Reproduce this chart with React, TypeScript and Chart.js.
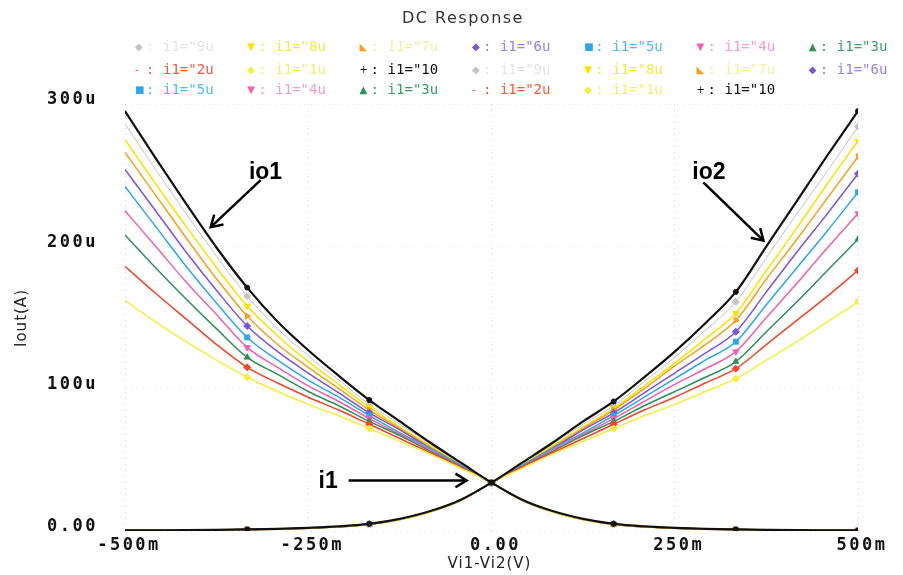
import React, { useEffect, useRef } from "react";
import { Chart, registerables } from "chart.js";
Chart.register(...registerables);

// Vi1-Vi2 sweep, in mV
const vDiff = [-500, -458.3, -416.7, -375, -333.3, -291.7, -250, -208.3, -166.7, -125, -83.3, -41.7, 0, 41.7, 83.3, 125, 166.7, 208.3, 250, 291.7, 333.3, 375, 416.7, 458.3, 500];

// legend / series order
const seriesLabels = ['i1="9u', 'i1="8u', 'i1="7u', 'i1="6u', 'i1="5u', 'i1="4u', 'i1="3u', 'i1="2u', 'i1="1u', 'i1="10'];

// io1 currents (uA)
const io1_9u = [286, 254, 223, 193, 165, 142, 123, 106, 89, 75, 61, 47, 34, 22, 14, 8.4, 5, 3.2, 2.2, 1.5, 1.1, 0.8, 0.6, 0.5, 0.4];
const io1_8u = [275, 244, 214, 185, 158, 137, 119, 103, 87, 73, 60, 47, 34, 22, 13.8, 8.3, 4.9, 3.1, 2.1, 1.5, 1.1, 0.8, 0.6, 0.5, 0.4];
const io1_7u = [266, 236, 206, 177, 151, 131, 115, 100, 85, 72, 59, 46, 34, 22, 13.8, 8.3, 4.9, 3.1, 2.1, 1.4, 1, 0.8, 0.6, 0.5, 0.4];
const io1_6u = [254, 225, 196, 169, 144, 126, 111, 97, 83, 71, 58, 46, 34, 21.8, 13.7, 8.2, 4.8, 3, 2.1, 1.4, 1, 0.8, 0.6, 0.5, 0.4];
const io1_5u = [242, 214, 186, 160, 136, 120, 106, 94, 81, 69, 58, 46, 34, 21.8, 13.7, 8.2, 4.8, 3, 2, 1.4, 1, 0.7, 0.6, 0.5, 0.4];
const io1_4u = [225, 200, 175, 152, 129, 115, 102, 91, 79, 68, 57, 45, 34, 21.7, 13.6, 8.1, 4.7, 3, 2, 1.4, 1, 0.7, 0.6, 0.5, 0.4];
const io1_3u = [208, 185, 163, 142, 122, 110, 98, 88, 77, 67, 56, 45, 34, 21.7, 13.6, 8.1, 4.7, 2.9, 2, 1.4, 1, 0.7, 0.5, 0.4, 0.3];
const io1_2u = [186, 167, 149, 131, 115, 104, 94, 85, 75, 65, 55, 45, 34, 21.6, 13.5, 8, 4.6, 2.9, 1.9, 1.3, 1, 0.7, 0.5, 0.4, 0.3];
const io1_1u = [162, 147, 133, 120, 108, 98, 89, 81, 72, 63, 54, 44, 34, 21.5, 13.4, 7.9, 4.6, 2.8, 1.9, 1.3, 0.9, 0.7, 0.5, 0.4, 0.3];
const io1_10u = [295, 262, 230, 199, 171, 147, 127, 109, 92, 77, 62, 48, 34, 22, 14, 8.5, 5, 3.2, 2.2, 1.5, 1.1, 0.8, 0.6, 0.5, 0.4];

// io2 currents (uA)
const io2_9u = [0.4, 0.5, 0.6, 0.8, 1.1, 1.5, 2.2, 3.2, 5, 8.4, 14, 22, 34, 47, 61, 75, 88, 105, 122, 141, 161, 192, 223, 253, 284];
const io2_8u = [0.4, 0.5, 0.6, 0.8, 1.1, 1.5, 2.1, 3.1, 4.9, 8.3, 13.8, 22, 34, 47, 60, 73, 86, 102, 118, 135, 153, 183, 213, 244, 274];
const io2_7u = [0.4, 0.5, 0.6, 0.8, 1, 1.4, 2.1, 3.1, 4.9, 8.3, 13.8, 22, 34, 46, 59, 72, 85, 100, 116, 131, 148, 177, 205, 234, 263];
const io2_6u = [0.4, 0.5, 0.6, 0.8, 1, 1.4, 2.1, 3, 4.8, 8.2, 13.7, 21.8, 34, 46, 58, 71, 83, 97, 111, 125, 140, 168, 196, 223, 251];
const io2_5u = [0.4, 0.5, 0.6, 0.7, 1, 1.4, 2, 3, 4.8, 8.2, 13.7, 21.8, 34, 46, 58, 69, 81, 94, 107, 120, 133, 159, 185, 211, 238];
const io2_4u = [0.4, 0.5, 0.6, 0.7, 1, 1.4, 2, 3, 4.7, 8.1, 13.6, 21.7, 34, 45, 57, 68, 79, 91, 103, 114, 126, 150, 174, 199, 223];
const io2_3u = [0.3, 0.4, 0.5, 0.7, 1, 1.4, 2, 2.9, 4.7, 8.1, 13.6, 21.7, 34, 45, 56, 67, 77, 88, 98, 108, 119, 140, 161, 183, 205];
const io2_2u = [0.3, 0.4, 0.5, 0.7, 1, 1.3, 1.9, 2.9, 4.6, 8, 13.5, 21.6, 34, 45, 55, 65, 75, 85, 94, 104, 114, 131, 148, 165, 183];
const io2_1u = [0.3, 0.4, 0.5, 0.7, 0.9, 1.3, 1.9, 2.8, 4.6, 7.9, 13.4, 21.5, 34, 44, 54, 63, 72, 81, 89, 98, 107, 120, 133, 147, 161];
const io2_10u = [0.4, 0.5, 0.6, 0.8, 1.1, 1.5, 2.2, 3.2, 5, 8.5, 14, 22, 34, 48, 62, 77, 91, 108, 126, 146, 168, 200, 232, 264, 295];

const io1Series = [io1_9u, io1_8u, io1_7u, io1_6u, io1_5u, io1_4u, io1_3u, io1_2u, io1_1u, io1_10u];
const io2Series = [io2_9u, io2_8u, io2_7u, io2_6u, io2_5u, io2_4u, io2_3u, io2_2u, io2_1u, io2_10u];

const lineColors = ["#c4c4c4", "#ffe000", "#f5a020", "#7a55d8", "#2ea6ea", "#f35fae", "#2f8f5a", "#f0452b", "#f5ee40", "#111111"];
const legendTextColors = ["#e4e4e4", "#f6e650", "#f6eca8", "#9a80e0", "#55b8f0", "#f59bcf", "#3c9e6a", "#f05a3a", "#f3ec78", "#111111"];
const pointStyles = ["rectRot", "triangle", "triangle", "rectRot", "rect", "triangle", "triangle", "rectRot", "rectRot", "circle"];
const pointRotations = [0, 180, 90, 0, 0, 180, 0, 0, 0, 0];
const legendSymbols = ["◆", "▼", "◣", "◆", "■", "▼", "▲", "-", "◆", "+"];

const markerIndices = [4, 8, 12, 16, 20, 24];

const xTickValues = [-500, -250, 0, 250, 500];
const xTickLabels = ["-500m", "-250m", "0.00", "250m", "500m"];
const yTickValues = [0, 100, 200, 300];
const yTickLabels = ["0.00", "100u", "200u", "300u"];

const chartTitle = "DC Response";
const xTitle = "Vi1-Vi2(V)";
const yTitle = "Iout(A)";

// annotations in data units (mV, uA)
const notes = [
  { text: "io1", x: -331, y: 252, fx: -315, fy: 246.5, tx: -383, ty: 213.5 },
  { text: "io2", x: 274, y: 252, fx: 289, fy: 245, tx: 371, ty: 204 },
  { text: "i1", x: -236, y: 34.5, fx: -195, fy: 35.5, tx: -34, ty: 35.5 },
];

function makeDatasets() {
  const ds: any[] = [];
  const sets = [io1Series, io2Series];
  sets.forEach((set, si) => {
    set.forEach((vals, i) => {
      const isBlack = i === 9;
      ds.push({
        label: seriesLabels[i],
        data: vals.map((v, k) => ({ x: vDiff[k], y: v })),
        borderColor: lineColors[i],
        backgroundColor: lineColors[i],
        borderWidth: isBlack ? 2.2 : i === 0 ? 1 : 1.5,
        pointStyle: pointStyles[i],
        rotation: pointRotations[i],
        pointRadius: (c: any) => (markerIndices.includes(c.dataIndex) ? (isBlack ? 2.5 : 3.5) : 0),
        pointBorderWidth: 1,
        cubicInterpolationMode: "monotone",
        order: isBlack ? 0 : 10 - i + si,
      });
    });
  });
  return ds;
}

function arrow(ctx: CanvasRenderingContext2D, x1: number, y1: number, x2: number, y2: number) {
  ctx.beginPath();
  ctx.moveTo(x1, y1);
  ctx.lineTo(x2, y2);
  ctx.stroke();
  const a = Math.atan2(y2 - y1, x2 - x1);
  const L = 13;
  ctx.beginPath();
  ctx.moveTo(x2 - L * Math.cos(a - 0.55), y2 - L * Math.sin(a - 0.55));
  ctx.lineTo(x2, y2);
  ctx.lineTo(x2 - L * Math.cos(a + 0.55), y2 - L * Math.sin(a + 0.55));
  ctx.stroke();
}

const decorPlugin = {
  id: "decor",
  afterDraw(chart: any) {
    const ctx: CanvasRenderingContext2D = chart.ctx;
    const xs = chart.scales.x;
    const ys = chart.scales.y;
    const area = chart.chartArea;
    ctx.save();

    // title
    ctx.fillStyle = "#333";
    ctx.font = "16px 'DejaVu Sans'";
    (ctx as any).letterSpacing = "1.5px";
    ctx.textAlign = "center";
    ctx.textBaseline = "middle";
    ctx.fillText(chartTitle, 463, 19);

    // legend: two groups of ten, seven per row
    (ctx as any).letterSpacing = "0px";
    ctx.textAlign = "left";
    const rowsY = [47, 70, 90];
    for (let n = 0; n < 20; n++) {
      const i = n % 10;
      const row = Math.floor(n / 7);
      const col = n % 7;
      const cx = 135 + col * 112.3;
      const y = rowsY[row];
      ctx.fillStyle = lineColors[i];
      ctx.font = "10px 'DejaVu Sans'";
      ctx.fillText(legendSymbols[i], cx, y);
      ctx.fillStyle = legendTextColors[i];
      ctx.font = "14px 'DejaVu Sans Mono'";
      ctx.fillText(":", cx + 11, y);
      ctx.fillText(seriesLabels[i], cx + 28, y);
    }

    // tick labels
    ctx.fillStyle = "#111";
    ctx.font = "bold 17px 'DejaVu Sans Mono'";
    (ctx as any).letterSpacing = "2.5px";
    ctx.textAlign = "center";
    ctx.textBaseline = "middle";
    xTickValues.forEach((v, k) => {
      ctx.fillText(xTickLabels[k], xs.getPixelForValue(v) + 4, area.bottom + 15);
    });
    ctx.textAlign = "right";
    yTickValues.forEach((v, k) => {
      ctx.fillText(yTickLabels[k], area.left - 27, ys.getPixelForValue(v) - 4);
    });

    // axis titles
    ctx.font = "15px 'DejaVu Sans'";
    (ctx as any).letterSpacing = "1px";
    ctx.textAlign = "center";
    ctx.fillStyle = "#222";
    ctx.fillText(xTitle, (area.left + area.right) / 2 - 2, area.bottom + 33);
    ctx.save();
    ctx.translate(22, 318);
    ctx.rotate(-Math.PI / 2);
    ctx.fillText(yTitle, 0, 0);
    ctx.restore();

    // annotations
    (ctx as any).letterSpacing = "0px";
    ctx.font = "bold 23px 'Liberation Sans'";
    ctx.fillStyle = "#000";
    ctx.strokeStyle = "#000";
    ctx.lineWidth = 2.5;
    ctx.textAlign = "left";
    notes.forEach((a) => {
      ctx.fillText(a.text, xs.getPixelForValue(a.x), ys.getPixelForValue(a.y));
      arrow(ctx, xs.getPixelForValue(a.fx), ys.getPixelForValue(a.fy), xs.getPixelForValue(a.tx), ys.getPixelForValue(a.ty));
    });
    ctx.restore();
  },
};

export default function App() {
  const ref = useRef<HTMLCanvasElement>(null);
  useEffect(() => {
    if (!ref.current) return;
    const chart = new Chart(ref.current, {
      type: "line",
      data: { datasets: makeDatasets() },
      options: {
        animation: false,
        responsive: false,
        devicePixelRatio: 1,
        layout: { padding: { left: 125, right: 45, top: 104, bottom: 44 } },
        plugins: { legend: { display: false }, title: { display: false }, tooltip: { enabled: false } },
        scales: {
          x: {
            type: "linear",
            min: -500,
            max: 500,
            ticks: { display: false, stepSize: 250 },
            grid: { color: "rgba(0,0,0,0.16)", drawTicks: false, lineWidth: 1, borderDash: [1, 5] } as any,
            border: { display: false, dash: [1, 5] },
          },
          y: {
            type: "linear",
            min: 0,
            max: 300,
            ticks: { display: false, stepSize: 100 },
            grid: { color: "rgba(0,0,0,0.12)", drawTicks: false, lineWidth: 1 } as any,
            border: { display: false, dash: [1, 5] },
          },
        },
      },
      plugins: [decorPlugin],
    } as any);
    return () => chart.destroy();
  }, []);
  return (
    <div style={{ position: "fixed", left: 0, top: 0, width: 903, height: 575, background: "#fff" }}>
      <canvas ref={ref} width={903} height={575} />
    </div>
  );
}
